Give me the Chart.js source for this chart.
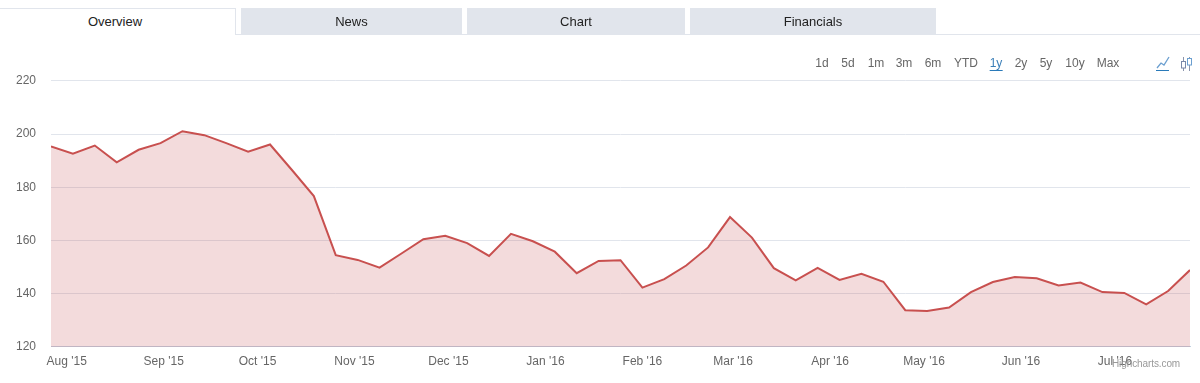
<!DOCTYPE html>
<html>
<head>
<meta charset="utf-8">
<script src="https://cdn.jsdelivr.net/npm/chart.js@4/dist/chart.umd.min.js"></script>
<style>
  html, body { margin: 0; padding: 0; background: #fff; overflow: hidden; }
  body { width: 1200px; height: 383px; position: relative; font-family: "Liberation Sans", Arial, sans-serif; }
  #chartWrap { position: absolute; left: 0; top: 0; width: 1200px; height: 383px; }
  .rule { position: absolute; left: 236px; top: 34px; width: 964px; height: 1px; background: #e1e5ec; }
  .tab { position: absolute; top: 8px; height: 27px; line-height: 27px; text-align: center; font-size: 13px; color: #222; background: #e1e5ec; }
  .tab.active { background: #fff; border-top: 1px solid #e1e5ec; border-right: 1px solid #e1e5ec; height: 27px; box-sizing: border-box; line-height: 26px; padding-right: 5px; }
  .range { position: absolute; top: 56px; height: 14px; line-height: 14px; font-size: 12px; color: #666; transform: translateX(-50%); white-space: nowrap; }
  .range.on { color: #3b7fb8; border-bottom: 1px solid #2a7ab9; }
  .credit { position: absolute; left: 1112px; top: 358px; font-size: 10px; letter-spacing: -0.1px; color: #999; }
  svg { position: absolute; }
</style>
</head>
<body>
<div id="chartWrap"><canvas id="priceChart"></canvas></div>
<div class="rule"></div>
<div id="tabs"></div>
<div id="ranges"></div>
<svg style="left:1155px;top:56px" width="15" height="16"><path d="M2 12 L6 7 L9 9 L14 1" fill="none" stroke="#6b9fd0" stroke-width="1.3"/><path d="M1 14.5 H14" stroke="#2a7ab9" stroke-width="1"/></svg>
<svg style="left:1180px;top:56px" width="14" height="16"><path d="M3.5 1V15M9.5 1V15" stroke="#8a94ac" stroke-width="1"/><rect x="1.5" y="5.5" width="4" height="6.5" fill="#fff" stroke="#7a88a8"/><rect x="7.5" y="2.5" width="4" height="6.5" fill="#fff" stroke="#6b9fd0"/></svg>
<div class="credit">Highcharts.com</div>

<script>
// weekly closes
const weeks = [
  '2015-07-27', '2015-08-03', '2015-08-10', '2015-08-17', '2015-08-24', '2015-08-31',
  '2015-09-07', '2015-09-14', '2015-09-21', '2015-09-28',
  '2015-10-05', '2015-10-12', '2015-10-19', '2015-10-26',
  '2015-11-02', '2015-11-09', '2015-11-16', '2015-11-23', '2015-11-30',
  '2015-12-07', '2015-12-14', '2015-12-21', '2015-12-28',
  '2016-01-04', '2016-01-11', '2016-01-18', '2016-01-25',
  '2016-02-01', '2016-02-08', '2016-02-15', '2016-02-22', '2016-02-29',
  '2016-03-07', '2016-03-14', '2016-03-21', '2016-03-28',
  '2016-04-04', '2016-04-11', '2016-04-18', '2016-04-25',
  '2016-05-02', '2016-05-09', '2016-05-16', '2016-05-23', '2016-05-30',
  '2016-06-06', '2016-06-13', '2016-06-20', '2016-06-27',
  '2016-07-04', '2016-07-11', '2016-07-18', '2016-07-25'
];
const prices = [
  195.4, 192.6, 195.7, 189.4, 194.1, 196.6, 201.1, 199.6, 196.6, 193.4,
  196.1, 186.5, 176.7, 154.5, 152.7, 149.8, 155.1, 160.5, 161.8, 159.0,
  154.2, 162.5, 159.7, 155.8, 147.7, 152.3, 152.6, 142.3, 145.5, 150.6,
  157.4, 168.8, 161.1, 149.6, 145.0, 149.7, 145.2, 147.5, 144.5, 133.8,
  133.5, 134.8, 140.6, 144.4, 146.3, 145.8, 143.1, 144.2, 140.6, 140.3,
  136.0, 141.0, 148.9
];
const monthStarts = [
  '2015-08-01', '2015-09-01', '2015-10-01', '2015-11-01', '2015-12-01', '2016-01-01',
  '2016-02-01', '2016-03-01', '2016-04-01', '2016-05-01', '2016-06-01', '2016-07-01'
];
const monthLabels = [
  "Aug '15", "Sep '15", "Oct '15", "Nov '15", "Dec '15", "Jan '16",
  "Feb '16", "Mar '16", "Apr '16", "May '16", "Jun '16", "Jul '16"
];
const yTicks = [120, 140, 160, 180, 200, 220];

const tabNames = ['Overview', 'News', 'Chart', 'Financials'];
const rangeNames = ['1d', '5d', '1m', '3m', '6m', 'YTD', '1y', '2y', '5y', '10y', 'Max'];

// page furniture around the chart
const tabBoxes = [[0, 236], [241, 221], [467, 218], [690, 246]];
tabNames.forEach((name, i) => {
  const el = document.createElement('div');
  el.className = i === 0 ? 'tab active' : 'tab';
  el.style.left = tabBoxes[i][0] + 'px';
  el.style.width = tabBoxes[i][1] + 'px';
  el.textContent = name;
  document.getElementById('tabs').appendChild(el);
});
const rangeCenters = [822, 848, 876, 904, 933, 966, 996, 1021, 1046, 1075, 1108];
rangeNames.forEach((name, i) => {
  const el = document.createElement('div');
  el.className = name === '1y' ? 'range on' : 'range';
  el.style.left = rangeCenters[i] + 'px';
  el.textContent = name;
  document.getElementById('ranges').appendChild(el);
});

const tickFont = { family: '"Liberation Sans", Arial, sans-serif', size: 12 };
const monthTicks = monthStarts.map(d => Date.parse(d));

new Chart(document.getElementById('priceChart').getContext('2d'), {
  type: 'line',
  data: {
    datasets: [{
      data: weeks.map((d, i) => ({ x: Date.parse(d), y: prices[i] })),
      borderColor: '#c8504f',
      borderWidth: 2,
      backgroundColor: 'rgba(195, 75, 80, 0.2)',
      fill: 'start',
      pointRadius: 0,
      tension: 0
    }]
  },
  options: {
    responsive: true,
    maintainAspectRatio: false,
    animation: false,
    layout: { padding: { top: 80.9, right: 10, left: 0, bottom: 0 } },
    plugins: { legend: { display: false }, tooltip: { enabled: false } },
    scales: {
      x: {
        type: 'linear',
        min: Date.parse(weeks[0]),
        max: Date.parse(weeks[weeks.length - 1]),
        grid: { display: false },
        border: { color: '#c0d0e0', width: 1 },
        afterBuildTicks: axis => { axis.ticks = monthTicks.map(v => ({ value: v })); },
        afterFit: axis => { axis.height = 36.1; },
        ticks: {
          autoSkip: false,
          maxRotation: 0,
          color: '#666',
          font: tickFont,
          padding: 0,
          callback: value => monthLabels[monthTicks.indexOf(value)]
        }
      },
      y: {
        min: 120,
        max: 220,
        afterBuildTicks: axis => { axis.ticks = yTicks.map(v => ({ value: v })); },
        afterFit: axis => { axis.width = 51; },
        grid: { color: '#e1e5ec', drawTicks: false },
        border: { display: false },
        ticks: { color: '#666', font: tickFont, padding: 15 }
      }
    }
  }
});
</script>
</body>
</html>
